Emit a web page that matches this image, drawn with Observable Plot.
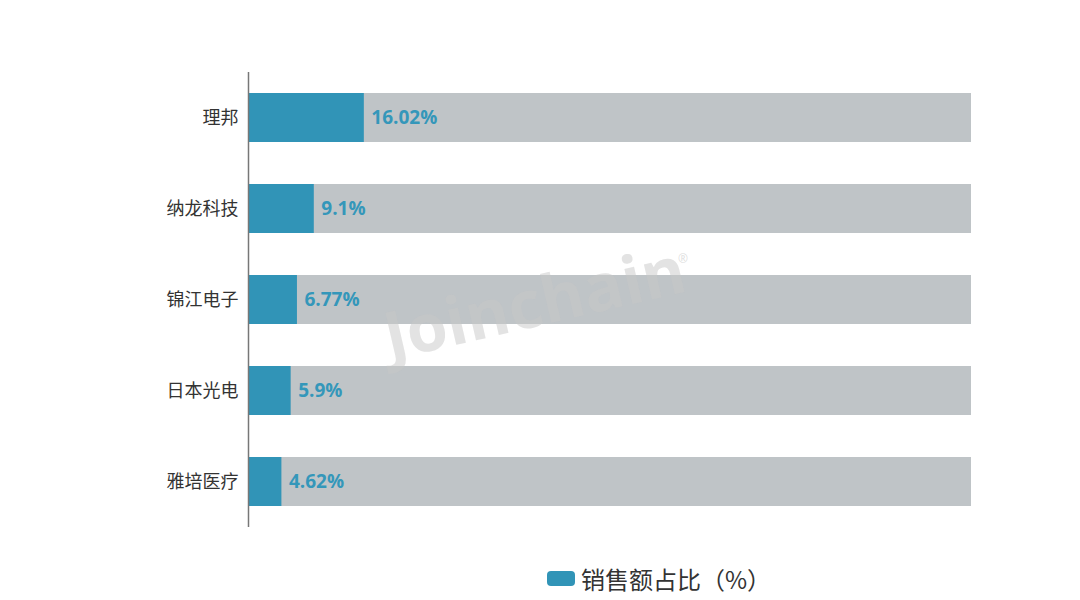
<!DOCTYPE html>
<html><head><meta charset="utf-8">
<script src="https://cdn.jsdelivr.net/npm/d3@7"></script>
<script src="https://cdn.jsdelivr.net/npm/@observablehq/plot@0.6"></script>
<style>
body{margin:0;background:#fff;font-family:"Open Sans","Noto Sans CJK SC",sans-serif;}
#chart{position:relative;width:1080px;height:600px;}
#legend{position:absolute;left:547px;top:561px;display:flex;align-items:center;font-size:24px;color:#333;font-family:"Noto Sans CJK SC",sans-serif;}
#legend .sw{width:28px;height:15px;background:#3194b7;border-radius:4px;margin-right:6px;}
</style></head>
<body><div id="chart"><div id="plot"></div><div id="legend"><div class="sw"></div><span>销售额占比（%）</span></div></div>
<script>
const companies = ["理邦", "纳龙科技", "锦江电子", "日本光电", "雅培医疗"];
const shares = [16.02, 9.1, 6.77, 5.9, 4.62];
const labels = ["16.02%", "9.1%", "6.77%", "5.9%", "4.62%"];
const total = 100;
const seriesName = "销售额占比（%）";
const watermark = ["Joinchain"];

const data = companies.map((c, i) => ({company: c, value: shares[i], label: labels[i], total}));

const chart = Plot.plot({
  width: 1080,
  height: 560,
  marginLeft: 248,
  marginRight: 109,
  marginTop: 72,
  marginBottom: 33,
  style: {fontFamily: '"Open Sans","Noto Sans CJK SC",sans-serif', background: "#fff"},
  x: {domain: [0, 100], axis: null},
  y: {domain: companies, paddingInner: 0.46, paddingOuter: 0.23, label: null},
  marks: [
    Plot.barX(data, {y: "company", x: "total", fill: "#bfc4c7"}),
    Plot.barX(data, {y: "company", x: "value", fill: "#3194b7"}),
    Plot.text(data, {y: "company", x: "value", text: "label", textAnchor: "start", dx: 7, fill: "#3497ba", fontSize: 19, fontWeight: "bold"}),
    Plot.axisY({tickSize: 0, tickPadding: 10, fontSize: 18, color: "#333", label: null, fontFamily: '"Noto Sans CJK SC",sans-serif'}),
    Plot.ruleX([0], {stroke: "#777", strokeWidth: 1.5}),
    Plot.text(watermark, {text: d => d, frameAnchor: "middle", dx: -75, dy: 5, rotate: -13, fontSize: 66, fontWeight: "bold", fill: "#c8c8c8", fillOpacity: 0.5, fontFamily: '"Open Sans",sans-serif'}),
    Plot.text(["®"], {text: d => d, frameAnchor: "middle", dx: 73, dy: -41, fontSize: 12, fill: "#c8c8c8", fillOpacity: 0.6})
  ]
});
document.getElementById("plot").appendChild(chart);
</script>
</body></html>
